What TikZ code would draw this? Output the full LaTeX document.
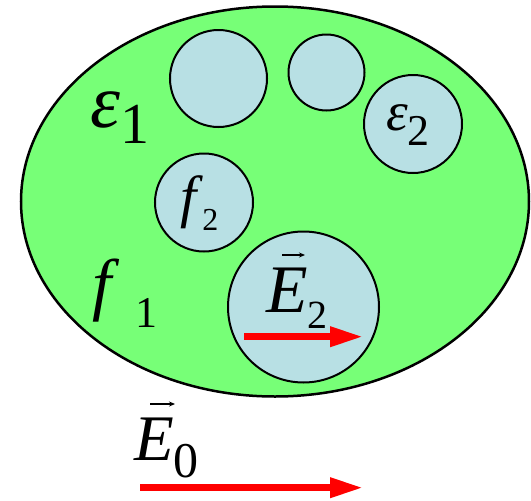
\documentclass[tikz,border=0pt]{standalone}
\usepackage{fontspec}
\setmainfont{Liberation Serif}
\newfontfamily\tms{Liberation Serif}[UprightFont={Liberation Serif}, ItalicFont={Liberation Serif Italic}]
\usetikzlibrary{arrows.meta}
\definecolor{medgreen}{RGB}{119,255,119}
\definecolor{incl}{RGB}{184,224,228}
\tikzset{
  blob/.style={circle, draw=black, line width=2pt, fill=incl, inner sep=0pt},
  bigarrow/.style={red, line width=6.7pt, -{Triangle[length=33pt,width=19pt]}},
  vecarrow/.style={black, line width=1.2pt, -{Stealth[length=6pt,width=5pt]}},
  lbl/.style={inner sep=0pt, anchor=base west, font=\tms}
}
\newcommand{\fsz}[1]{\fontsize{#1}{#1}\selectfont}
\begin{document}
\begin{tikzpicture}[x=1pt,y=-1pt]
\useasboundingbox (0,0) rectangle (531,501);
% host medium
\draw[line width=2.5pt, fill=medgreen] (275,201.5) ellipse [x radius=254, y radius=195];
\node[blob, minimum size=97pt] (c1) at (218.5,78.5) {};
\node[blob, minimum size=76pt] (c2) at (326.5,72.5) {};
\node[blob, minimum size=98pt] (c3) at (413,124) {};
\node[blob, minimum size=98pt] (c4) at (204,202.5) {};
\node[blob, minimum size=151pt] (c5) at (303.5,307) {};
% labels
\node[lbl] (eps1) at (90,127) {\fsz{76}\itshape ε\raisebox{-16pt}{\fsz{58}\upshape 1}};
\node[lbl] (eps2) at (386,130) {\fsz{55}\itshape ε\raisebox{-15pt}{\fsz{44}\upshape 2}};
\node[lbl] (f2) at (180,216) {\fsz{58}\itshape f\hspace{6pt}\raisebox{-14pt}{\fsz{32}\upshape 2}};
\node[lbl] (f1) at (92,307) {\fsz{69}\itshape f\hspace{24pt}\raisebox{-20pt}{\fsz{44}\upshape 1}};
\node[lbl] (E2) at (266,312) {\fsz{68}\itshape E\raisebox{-16pt}{\fsz{40}\upshape 2}};
\node[lbl] (E0) at (134,460) {\fsz{65}\itshape E\raisebox{-17pt}{\fsz{50}\upshape 0}};
% vector accents
\coordinate (v2a) at (282,255);
\coordinate (v2b) at (305,255);
\draw[vecarrow] (v2a) -- (v2b);
\coordinate (v0a) at (150,404);
\coordinate (v0b) at (175,404);
\draw[vecarrow] (v0a) -- (v0b);
% field arrows
\coordinate (a2s) at (244,336.7);
\coordinate (a2e) at (363,336.7);
\draw[bigarrow] (a2s) -- (a2e);
\coordinate (a0s) at (140,487.7);
\coordinate (a0e) at (363,487.7);
\draw[bigarrow] (a0s) -- (a0e);
\end{tikzpicture}
\end{document}
